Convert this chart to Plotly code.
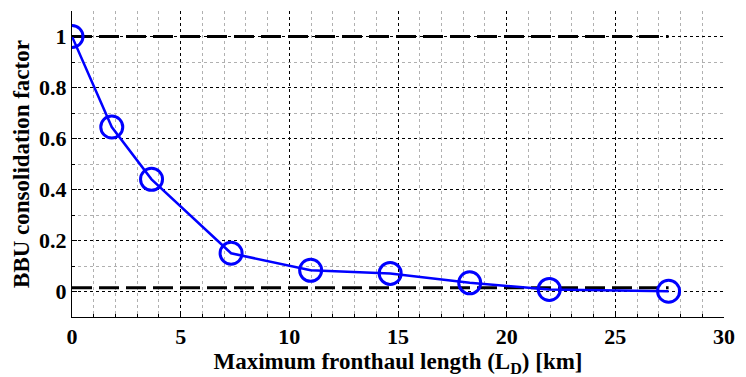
import plotly.graph_objects as go

# Maximum fronthaul length (km) and BBU consolidation factor
fronthaul_km = [0.0, 1.83, 3.66, 7.32, 10.98, 14.64, 18.3, 21.96, 27.45]
consolidation = [1.0, 0.645, 0.44, 0.15, 0.083, 0.071, 0.034, 0.008, 0.001]

# Reference bounds (upper and lower asymptotes)
bound_x = [0.0, 27.45]
upper_bound = [1.0, 1.0]
lower_bound = [0.015, 0.015]

y_ticks = [0, 0.2, 0.4, 0.6, 0.8, 1.0]
y_tick_text = ["0", "0.2", "0.4", "0.6", "0.8", "1"]
x_ticks = [0, 5, 10, 15, 20, 25, 30]
x_tick_text = ["0", "5", "10", "15", "20", "25", "30"]

font_family = "Liberation Serif"

fig = go.Figure()

for yb in (upper_bound, lower_bound):
    fig.add_trace(go.Scatter(
        x=bound_x, y=yb, mode="lines",
        line=dict(color="black", width=3, dash="20px,7px"),
        showlegend=False, hoverinfo="skip",
    ))

fig.add_trace(go.Scatter(
    x=fronthaul_km, y=consolidation, mode="lines+markers",
    line=dict(color="#0000ff", width=2.5),
    marker=dict(symbol="circle-open", size=22, color="#0000ff",
                line=dict(width=3, color="#0000ff")),
    showlegend=False,
))

axis_common = dict(
    showline=True, linecolor="black", linewidth=1, mirror=False,
    ticks="inside", ticklen=5, tickcolor="black",
    showgrid=True, gridcolor="black", griddash="dot", gridwidth=1,
    zeroline=False,
    tickfont=dict(family=font_family, size=22, color="black", weight="bold"),
)

fig.update_xaxes(
    range=[0, 30], tickvals=x_ticks,
    ticktext=["<b>%s</b>" % t for t in x_tick_text],
    minor=dict(dtick=1, showgrid=True, gridcolor="#b0b0b0", griddash="dot",
               ticks="inside", ticklen=3, tickcolor="black"),
    title=dict(text="<b>Maximum fronthaul length (L<sub>D</sub>) [km]</b>",
               font=dict(family=font_family, size=23, color="black"),
               standoff=0),
    **axis_common,
)
fig.update_yaxes(
    range=[-0.1, 1.1], tickvals=y_ticks,
    ticktext=["<b>%s</b>" % t for t in y_tick_text],
    minor=dict(dtick=0.1, tick0=0, showgrid=True, gridcolor="#b0b0b0",
               griddash="dot", ticks="inside", ticklen=3, tickcolor="black"),
    title=dict(text="<b>BBU consolidation factor</b>",
               font=dict(family=font_family, size=23, color="black"),
               standoff=3),
    **axis_common,
)

fig.update_layout(
    width=746, height=377,
    margin=dict(l=72, r=14, t=11, b=60),
    font=dict(family=font_family, color="black"),
    paper_bgcolor="white", plot_bgcolor="white",
)

fig.write_html("out.html")
